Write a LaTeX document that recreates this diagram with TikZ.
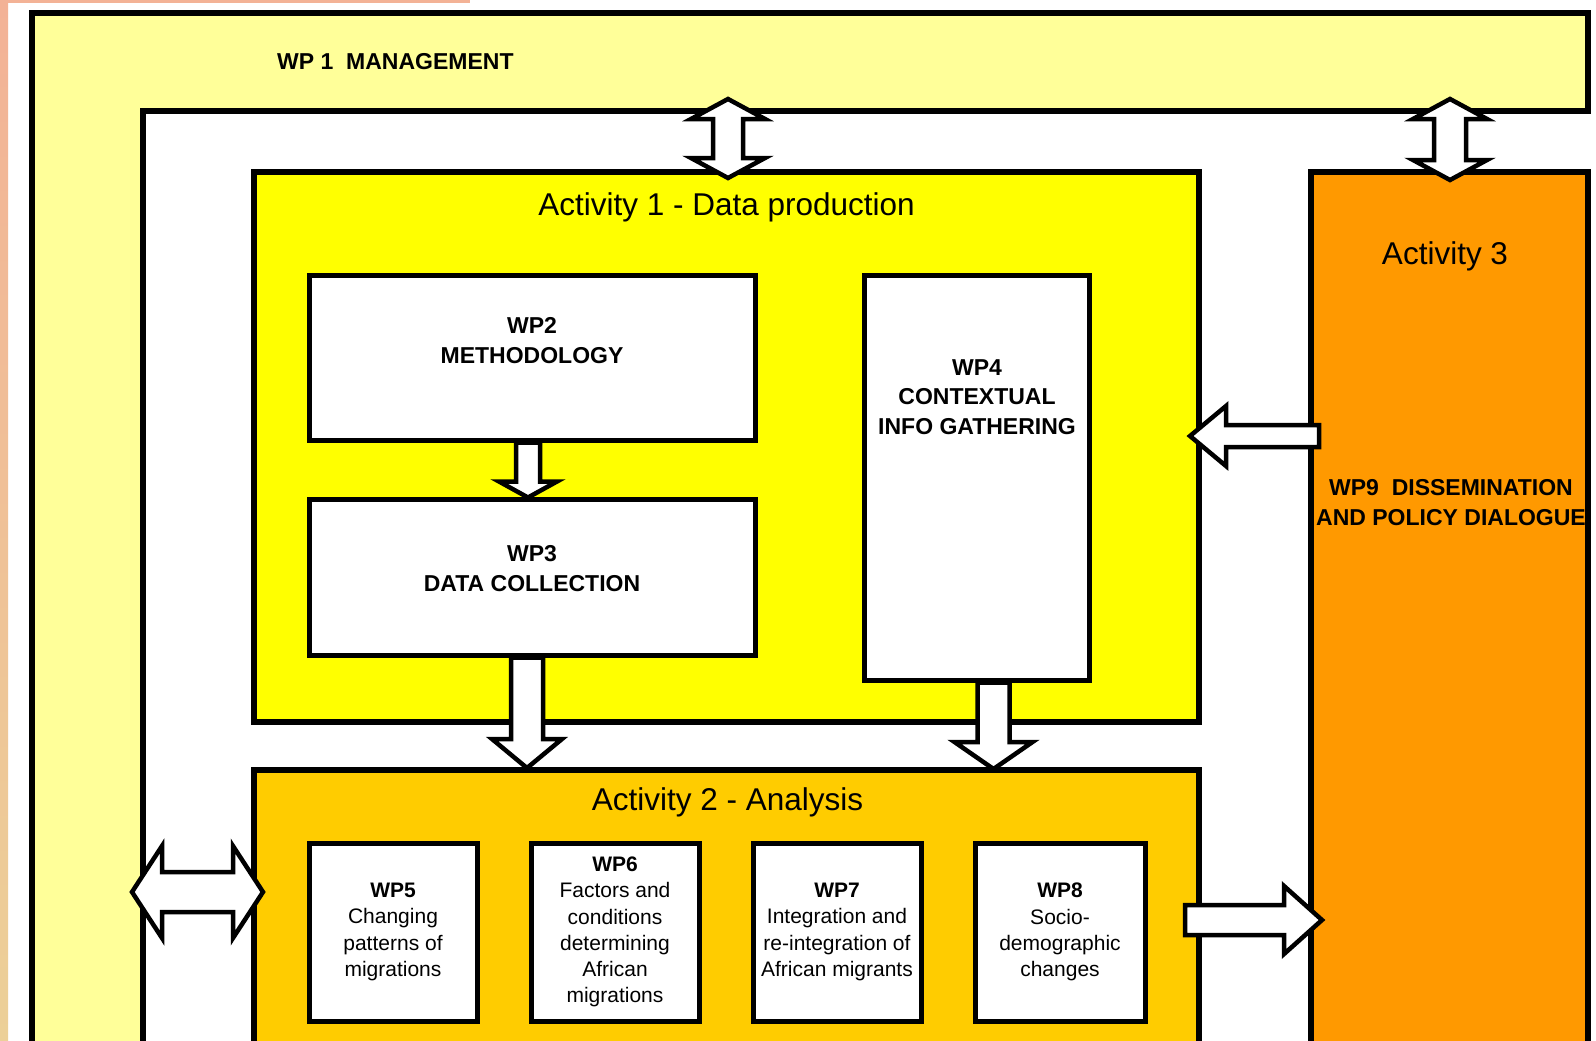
\documentclass[tikz,border=0pt]{standalone}
\usepackage{fontspec}
\setmainfont{Liberation Sans}
\usetikzlibrary{calc}
\definecolor{wpone}{HTML}{FFFF99}
\definecolor{actone}{HTML}{FFFF00}
\definecolor{acttwo}{HTML}{FFCC00}
\definecolor{actthree}{HTML}{FF9900}
\definecolor{peach}{RGB}{243,178,150}
\definecolor{peachlow}{RGB}{236,208,152}
% single block arrow: #1 tail, #2 tip, #3 shaft half width, #4 head half width, #5 head length
\newcommand\onearrow[5]{%
 \coordinate (ta) at (#1); \coordinate (tb) at (#2);
 \coordinate (th) at ($(tb)!#5!(ta)$);
 \draw[blockarrow] ($(ta)!#3!90:(tb)$) -- ($(th)!#3!90:(tb)$) -- ($(th)!#4!90:(tb)$) -- (tb)
   -- ($(th)!#4!270:(tb)$) -- ($(th)!#3!270:(tb)$) -- ($(ta)!#3!270:(tb)$) -- cycle;}
% double block arrow
\newcommand\twoarrow[5]{%
 \coordinate (ta) at (#1); \coordinate (tb) at (#2);
 \coordinate (tp) at ($(ta)!#5!(tb)$); \coordinate (tq) at ($(tb)!#5!(ta)$);
 \draw[blockarrow] (ta) -- ($(tp)!#4!90:(tb)$) -- ($(tp)!#3!90:(tb)$) -- ($(tq)!#3!90:(tb)$)
   -- ($(tq)!#4!90:(tb)$) -- (tb) -- ($(tq)!#4!270:(tb)$) -- ($(tq)!#3!270:(tb)$)
   -- ($(tp)!#3!270:(tb)$) -- ($(tp)!#4!270:(tb)$) -- cycle;}
\begin{document}
\begin{tikzpicture}[x=1pt,y=-1pt,
  actbox/.style={draw=black, line width=6pt, rectangle, inner sep=0pt},
  wpbox/.style={draw=black, line width=5pt, fill=white, rectangle, inner sep=0pt},
  blockarrow/.style={draw=black, line width=4.5pt, fill=white, line join=miter},
  bigtitle/.style={font=\fontsize{31.5}{36}\selectfont, inner sep=0pt},
  boldlab/.style={font=\fontsize{23}{29.5}\selectfont\bfseries, align=center, inner sep=0pt},
  smalltext/.style={font=\fontsize{21}{26.2}\selectfont, align=center}]
\useasboundingbox (0,0) rectangle (1596,1041);
\clip (0,0) rectangle (1596,1041);
\fill[white] (0,0) rectangle (1596,1041);
\shade[top color=peach, bottom color=peachlow] (0,0) rectangle (8,1041);
\fill[peach] (0,0) rectangle (470,3);
% WP1 management frame
\filldraw[fill=wpone, draw=black, line width=6pt] (32,1070) -- (32,13) -- (1588,13) -- (1588,111) -- (143,111) -- (143,1070) -- cycle;
\node[boldlab, anchor=west] (wp1lab) at (277,62) {WP 1\ \ MANAGEMENT};
% activities
\node[actbox, fill=actone, minimum width=945pt, minimum height=550pt] (a1) at (726.5,447) {};
\node[actbox, fill=acttwo, minimum width=945pt, minimum height=340pt] (a2) at (726.5,940) {};
\node[actbox, fill=actthree, minimum width=277pt, minimum height=940pt] (a3) at (1449.5,642) {};
\node[bigtitle] (a1t) at (726.5,207) {Activity 1 - Data production};
\node[bigtitle] (a2t) at (727.5,802) {Activity 2 - Analysis};
\node[bigtitle] (a3t) at (1445,256) {Activity 3};
\node[boldlab] (wp9) at (1451,502.5) {WP9\ \ DISSEMINATION\\AND POLICY DIALOGUE};
% work packages of activity 1
\node[wpbox, minimum width=446pt, minimum height=165pt] (wp2) at (532,357.5) {};
\node[boldlab] (wp2t) at (532,340.5) {WP2\\METHODOLOGY};
\node[wpbox, minimum width=446pt, minimum height=156pt] (wp3) at (532,577) {};
\node[boldlab] (wp3t) at (532,568.5) {WP3\\DATA COLLECTION};
\node[wpbox, minimum width=225pt, minimum height=405pt] (wp4) at (976.5,477.5) {};
\node[boldlab] (wp4t) at (977,397) {WP4\\CONTEXTUAL\\INFO GATHERING};
% work packages of activity 2
\node[wpbox, smalltext, minimum width=168pt, minimum height=178pt] (wp5) at (393,932) {\textbf{WP5}\\Changing\\patterns of\\migrations};
\node[wpbox, smalltext, minimum width=168pt, minimum height=178pt] (wp6) at (615,932) {\textbf{WP6}\\Factors and\\conditions\\determining\\African\\migrations};
\node[wpbox, smalltext, minimum width=168pt, minimum height=178pt] (wp7) at (837,932) {\textbf{WP7}\\Integration and\\re-integration of\\African migrants};
\node[wpbox, smalltext, minimum width=170pt, minimum height=178pt] (wp8) at (1060,932) {\textbf{WP8}\\Socio-\\demographic\\changes};
% connector end points
\coordinate (m1a) at (728,99);
\coordinate (m1b) at (728,178);
\coordinate (m2a) at (1450,99);
\coordinate (m2b) at (1450,180);
\coordinate (r3a) at ($(a3.west)+(11,-206)$);
\coordinate (r3b) at ($(a1.east)+(-12,-11)$);
\coordinate (w23a) at ($(wp2.south)+(-4,0)$);
\coordinate (w23b) at ($(wp3.north)+(-4,1)$);
\coordinate (w3a) at ($(wp3.south)+(-5,0)$);
\coordinate (w3b) at ($(a2.north -| wp3.south)+(-5,1)$);
\coordinate (w4a) at ($(wp4.south)+(17,0)$);
\coordinate (w4b) at ($(a2.north -| wp4.south)+(17,2)$);
\coordinate (l2a) at (132,892);
\coordinate (l2b) at (263,892);
\coordinate (r2a) at (1185,920);
\coordinate (r2b) at (1322,920);
% block arrows
\twoarrow{m1a}{m1b}{15pt}{37pt}{20pt}
\twoarrow{m2a}{m2b}{16pt}{37pt}{20pt}
\onearrow{r3a}{r3b}{11pt}{30pt}{36pt}
\onearrow{w23a}{w23b}{12pt}{29pt}{16pt}
\onearrow{w3a}{w3b}{16pt}{35pt}{29pt}
\onearrow{w4a}{w4b}{16pt}{39pt}{27pt}
\twoarrow{l2a}{l2b}{20pt}{46pt}{30pt}
\onearrow{r2a}{r2b}{15pt}{34pt}{38pt}
\end{tikzpicture}
\end{document}
